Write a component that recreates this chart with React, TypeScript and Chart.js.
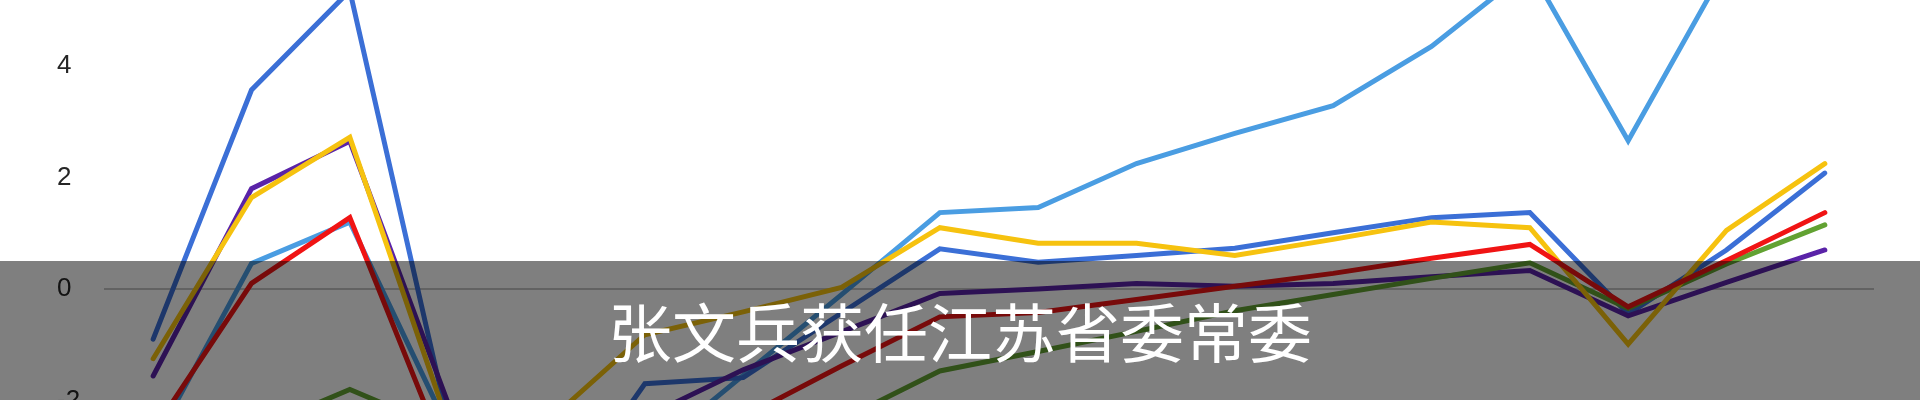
import React, { useEffect, useRef } from 'react';
import { Chart, registerables } from 'chart.js';

Chart.register(...registerables);

// ---- data ----
const categories = ['1', '2', '3', '4', '5', '6', '7', '8', '9', '10', '11', '12', '13', '14', '15', '16', '17', '18'];

const seriesRed = [-2.55, 0.1, 1.28, -3.1, -3.5, -3.0, -2.3, -1.38, -0.5, -0.42, -0.19, 0.05, 0.28, 0.55, 0.8, -0.32, 0.51, 1.37];
const seriesYellow = [-1.25, 1.64, 2.72, -2.42, -2.4, -0.82, -0.41, 0.03, 1.1, 0.82, 0.82, 0.6, 0.89, 1.2, 1.1, -0.99, 1.05, 2.25];
const seriesGreen = [-2.6, -2.55, -1.8, -2.55, -3.2, -3.3, -3.0, -2.35, -1.47, -1.12, -0.76, -0.39, -0.1, 0.19, 0.47, -0.35, 0.45, 1.15];
const seriesPurple = [-1.56, 1.8, 2.65, -2.05, -3.0, -2.3, -1.45, -0.77, -0.08, 0.0, 0.1, 0.05, 0.1, 0.22, 0.33, -0.48, 0.12, 0.7];
const seriesDarkBlue = [-0.9, 3.57, 5.35, -2.4, -4.2, -1.7, -1.59, -0.43, 0.72, 0.48, 0.6, 0.73, 1.01, 1.28, 1.37, -0.45, 0.7, 2.08];
const seriesLightBlue = [-2.8, 0.46, 1.2, -2.5, -3.5, -3.0, -1.55, -0.1, 1.37, 1.46, 2.25, 2.79, 3.29, 4.35, 5.75, 2.66, 5.8, 6.6];

const yMin = -8;
const yMax = 8;
const yStep = 2;

const bannerText = '张文兵获任江苏省委常委';

// view framing: the reference is a crop of a taller chart
const UNIT_PX = 55.9; // pixels per y unit
const ZERO_Y = 288.5; // where the 0 baseline sits in the 400px window

export default function App() {
  const canvasRef = useRef<HTMLCanvasElement | null>(null);
  const wrapRef = useRef<HTMLDivElement | null>(null);

  useEffect(() => {
    const canvas = canvasRef.current;
    const wrap = wrapRef.current;
    if (!canvas || !wrap) return;
    const mk = (data: number[], color: string) => ({
      data,
      borderColor: color,
      backgroundColor: color,
      borderWidth: 5,
      pointRadius: 0,
      tension: 0,
      fill: false,
      borderCapStyle: 'round' as const,
    });
    const chart = new Chart(canvas, {
      type: 'line',
      data: {
        labels: categories,
        datasets: [
          mk(seriesRed, '#f01414'),
          mk(seriesYellow, '#f6c20f'),
          mk(seriesGreen, '#62a232'),
          mk(seriesPurple, '#5a23a8'),
          mk(seriesDarkBlue, '#3b6fd6'),
          mk(seriesLightBlue, '#4a9de2'),
        ],
      },
      options: {
        animation: false,
        responsive: false,
        devicePixelRatio: 1,
        layout: { padding: { top: 20, bottom: 20, left: 57, right: 46 } },
        plugins: { legend: { display: false }, tooltip: { enabled: false } },
        scales: {
          x: { type: 'category', offset: true, display: false },
          y: {
            min: yMin,
            max: yMax,
            ticks: {
              stepSize: yStep,
              crossAlign: 'far',
              padding: 0,
              color: '#262626',
              font: { family: '"Liberation Sans", Arial, sans-serif', size: 26 },
            },
            grid: {
              drawTicks: false,
              lineWidth: 2,
              color: (ctx: any) => (ctx.tick && ctx.tick.value === 0 ? '#c4c4c4' : 'rgba(0,0,0,0)'),
            },
            border: { display: false },
            afterFit: (scale: any) => {
              scale.width = 47;
            },
          },
        },
      },
    });
    // fit the canvas height so one y unit spans UNIT_PX, then frame the 0 line
    const ys: any = chart.scales.y;
    const area = ys.bottom - ys.top;
    const overhead = canvas.height - area;
    const newH = Math.round(UNIT_PX * (yMax - yMin) + overhead);
    chart.resize(1920, newH);
    const p0 = chart.scales.y.getPixelForValue(0);
    wrap.style.height = newH + 'px';
    wrap.style.top = ZERO_Y - p0 + 'px';
    return () => chart.destroy();
  }, []);

  return (
    <div
      style={{
        position: 'fixed',
        left: 0,
        top: 0,
        width: 1920,
        height: 400,
        overflow: 'hidden',
        background: '#ffffff',
      }}
    >
      <div ref={wrapRef} style={{ position: 'absolute', left: 0, top: -178, width: 1920, height: 932 }}>
        <canvas ref={canvasRef} width={1920} height={932} style={{ display: 'block' }} />
      </div>
      <div
        style={{
          position: 'absolute',
          left: 0,
          top: 261,
          width: 1920,
          height: 139,
          background: 'rgba(0,0,0,0.5)',
          boxSizing: 'border-box',
          paddingTop: 36,
          textAlign: 'center',
          color: '#ffffff',
          fontFamily: '"Noto Sans CJK SC", "Noto Sans", sans-serif',
          fontSize: 64,
          lineHeight: '64px',
          fontWeight: 400,
          whiteSpace: 'nowrap',
        }}
      >
        {bannerText}
      </div>
    </div>
  );
}
